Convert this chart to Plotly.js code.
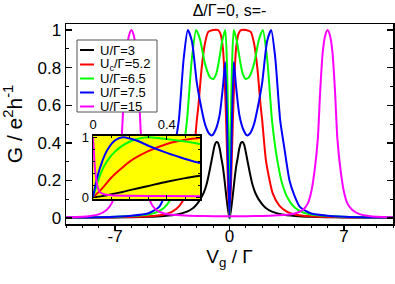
<!DOCTYPE html>
<html>
<head>
<meta charset="utf-8">
<script src="https://cdn.plot.ly/plotly-3.0.1.min.js"></script>
<style>html,body{margin:0;padding:0;background:#fff;}#chart{width:395px;height:284px;}</style>
</head>
<body>
<div id="chart"></div>
<script>
// ---- Data ----
const seriesNames = ["U/Γ=3", "U<sub>c</sub>/Γ=5.2", "U/Γ=6.5", "U/Γ=7.5", "U/Γ=15"];
const seriesColors = ["#000000", "#ff0000", "#00ff00", "#0000ff", "#ff00ff"];

// main panel: G vs Vg/Γ
const vgU3 = [-10,-8,-7,-6,-5,-4,-3.2,-2.6,-2.2,-1.9,-1.6,-1.4,-1.2,-1.0,-0.9,-0.8,-0.7,-0.6,-0.5,-0.4,-0.3,-0.2,-0.1,0,
              0.1,0.2,0.3,0.4,0.5,0.6,0.7,0.8,0.9,1.0,1.2,1.4,1.6,1.9,2.2,2.6,3.2,4,5,6,7,8,10];
const gU3  = [0.002,0.003,0.004,0.005,0.007,0.012,0.02,0.035,0.055,0.085,0.13,0.18,0.26,0.35,0.39,0.405,0.40,0.37,0.32,0.27,0.20,0.12,0.05,0,
              0.05,0.12,0.20,0.27,0.32,0.37,0.40,0.405,0.39,0.35,0.26,0.18,0.13,0.085,0.055,0.035,0.02,0.012,0.007,0.005,0.004,0.003,0.002];

const vgU52 = [-10,-8,-6,-5,-4,-3.5,-3.06,-2.65,-2.24,-2.0,-1.9,-1.7,-1.5,-1.3,-1.0,-0.7,-0.55,-0.4,-0.3,-0.2,-0.1,0,
               0.1,0.2,0.3,0.4,0.55,0.7,1.0,1.3,1.5,1.7,1.9,2.0,2.24,2.65,3.06,3.5,4,5,6,8,10];
const gU52  = [0.002,0.003,0.006,0.01,0.02,0.035,0.065,0.13,0.30,0.52,0.60,0.80,0.93,0.99,1.0,1.0,0.98,0.90,0.75,0.50,0.20,0,
               0.20,0.50,0.75,0.90,0.98,1.0,1.0,0.99,0.93,0.80,0.60,0.52,0.30,0.13,0.065,0.035,0.02,0.01,0.006,0.003,0.002];

const vgU65 = [-10,-8,-6,-5,-4.5,-4.0,-3.6,-3.2,-2.9,-2.6,-2.3,-2.04,-1.8,-1.5,-1.2,-1.0,-0.8,-0.6,-0.45,-0.26,-0.15,-0.1,-0.05,0,
               0.05,0.1,0.15,0.26,0.45,0.6,0.8,1.0,1.2,1.5,1.8,2.04,2.3,2.6,2.9,3.2,3.6,4.0,4.5,5,6,8,10];
const gU65  = [0.003,0.005,0.012,0.02,0.03,0.055,0.10,0.19,0.32,0.52,0.85,1.0,0.95,0.82,0.75,0.74,0.77,0.86,0.94,1.0,0.80,0.60,0.35,0,
               0.35,0.60,0.80,1.0,0.94,0.86,0.77,0.74,0.75,0.82,0.95,1.0,0.85,0.52,0.32,0.19,0.10,0.055,0.03,0.02,0.012,0.005,0.003];

const vgU75 = [-10,-8,-6,-5,-4.3,-3.97,-3.67,-3.36,-3.1,-2.8,-2.55,-2.3,-2.0,-1.8,-1.5,-1.25,-1.07,-0.85,-0.6,-0.4,-0.26,0,
               0.26,0.4,0.6,0.85,1.07,1.25,1.5,1.8,2.0,2.3,2.55,2.8,3.1,3.36,3.67,3.97,4.3,5,6,8,10];
const gU75  = [0.003,0.005,0.013,0.025,0.06,0.12,0.20,0.37,0.52,0.85,1.0,0.94,0.72,0.62,0.50,0.45,0.44,0.47,0.55,0.70,0.83,0,
               0.83,0.70,0.55,0.47,0.44,0.45,0.50,0.62,0.72,0.94,1.0,0.85,0.52,0.37,0.20,0.12,0.06,0.025,0.013,0.005,0.003];

const vgU15 = [-10,-9,-8.5,-8,-7.5,-7.2,-7.0,-6.8,-6.6,-6.45,-6.3,-6.15,-6,-5.85,-5.7,-5.55,-5.4,-5.2,-5.0,-4.8,-4.5,-4,-3.5,-3,-2,-1,0,
               1,2,3,3.5,4,4.5,4.8,5.0,5.2,5.4,5.55,5.7,5.85,6,6.15,6.3,6.45,6.6,6.8,7.0,7.2,7.5,8,8.5,9,10];
const gU15  = [0.005,0.008,0.012,0.02,0.045,0.08,0.14,0.25,0.42,0.68,0.88,0.97,1.0,0.97,0.88,0.68,0.42,0.25,0.14,0.08,0.045,0.025,0.018,0.015,0.012,0.01,0.01,
               0.01,0.012,0.015,0.018,0.025,0.045,0.08,0.14,0.25,0.42,0.68,0.88,0.97,1.0,0.97,0.88,0.68,0.42,0.25,0.14,0.08,0.045,0.02,0.012,0.008,0.005];

// inset: zoom on small Vg/Γ
const inXU3  = [0,0.05,0.1,0.16,0.2,0.3,0.4,0.5,0.58];
const inGU3  = [0,0.02,0.05,0.09,0.12,0.19,0.26,0.32,0.36];
const inXU52 = [0,0.05,0.1,0.15,0.2,0.3,0.4,0.5,0.58];
const inGU52 = [0,0.15,0.33,0.47,0.60,0.77,0.89,0.96,0.99];
const inXU65 = [0,0.03,0.06,0.1,0.15,0.2,0.25,0.3,0.35,0.4,0.5,0.58];
const inGU65 = [0,0.30,0.52,0.70,0.84,0.93,0.98,1.0,0.99,0.97,0.93,0.89];
const inXU75 = [0,0.02,0.05,0.08,0.12,0.16,0.2,0.25,0.3,0.4,0.5,0.58];
const inGU75 = [0,0.30,0.60,0.80,0.95,1.0,0.98,0.93,0.86,0.74,0.64,0.57];
const inXU15 = [0,0.005,0.01,0.02,0.03,0.04,0.06,0.1,0.2,0.4,0.58];
const inGU15 = [1.0,0.75,0.50,0.25,0.13,0.08,0.05,0.035,0.025,0.02,0.017];

// tick labels
const xTickVals = [-7, 0, 7];
const xTickText = ["-7", "0", "7"];
const yTickVals = [0, 0.2, 0.4, 0.6, 0.8, 1];
const yTickText = ["0", "0.2", "0.4", "0.6", "0.8", "1"];
const inXTickVals = [0, 0.4];
const inXTickText = ["0", "0.4"];
const inYTickVals = [0, 1];
const inYTickText = ["0", "1"];

// ---- Build figure ----
const FONT = "Liberation Sans, Arial, sans-serif";
const mainX = [vgU3, vgU52, vgU65, vgU75, vgU15];
const mainY = [gU3, gU52, gU65, gU75, gU15];
const insX = [inXU3, inXU52, inXU65, inXU75, inXU15];
const insY = [inGU3, inGU52, inGU65, inGU75, inGU15];
const insXRange = [0, 0.58];
const insYRange = [-0.028, 1.027];

const traces = [];
for (let i = 0; i < 5; i++) {
  traces.push({x: mainX[i], y: mainY[i], type: "scatter", mode: "lines", name: seriesNames[i],
    line: {color: seriesColors[i], width: 2, shape: "spline", smoothing: 0.6}, showlegend: false, xaxis: "x", yaxis: "y"});
}
for (let i = 0; i < 5; i++) {
  traces.push({x: insX[i], y: insY[i], type: "scatter", mode: "lines", name: seriesNames[i],
    line: {color: seriesColors[i], width: 2, shape: "spline", smoothing: 0.6}, showlegend: false, xaxis: "x3", yaxis: "y3"});
}

// manual legend (compact, like the reference)
const L = 66, R = 393, T = 24, B = 224;
const px = v => (v - L) / (R - L);
const py = v => (B - v) / (B - T);
const shapes = [
  {type: "rect", xref: "x3", yref: "y3", x0: insXRange[0], x1: insXRange[1], y0: insYRange[0], y1: insYRange[1],
   fillcolor: "#ffff00", line: {width: 0}, layer: "below"},
  {type: "rect", xref: "paper", yref: "paper", x0: px(77), x1: px(157), y0: py(112), y1: py(40),
   fillcolor: "#ffffff", line: {color: "#555555", width: 1}, layer: "above"}
];
const annotations = [];
const rowY = [50, 64.5, 78.5, 92.5, 106.5];
for (let i = 0; i < 5; i++) {
  shapes.push({type: "line", xref: "paper", yref: "paper", x0: px(80), x1: px(94), y0: py(rowY[i]), y1: py(rowY[i]),
    line: {color: seriesColors[i], width: 2}, layer: "above"});
  annotations.push({xref: "paper", yref: "paper", x: px(98), y: py(rowY[i]), xanchor: "left", yanchor: "middle",
    text: seriesNames[i], showarrow: false, font: {family: FONT, size: 13, color: "#000"}});
}

const layout = {
  width: 395, height: 284,
  margin: {l: L, r: 395 - R, t: T, b: 284 - B, pad: 0},
  paper_bgcolor: "#ffffff", plot_bgcolor: "#ffffff",
  font: {family: FONT, color: "#000"},
  title: {text: "Δ/Γ=0, s=-", x: 0.5, xref: "paper", xanchor: "center", y: 1 - 10 / 284, yanchor: "middle",
          font: {family: FONT, size: 16, color: "#000"}},
  xaxis: {range: [-10, 10], tickmode: "array", tickvals: xTickVals, ticktext: xTickText,
          ticks: "outside", ticklen: 4, tickwidth: 1.5, tickcolor: "#000", ticklabelstandoff: -8,
          minor: {tickmode: "linear", tick0: 0, dtick: 1, ticks: "outside", ticklen: 2.5, tickwidth: 1, tickcolor: "#000"},
          showline: true, linewidth: 1.5, linecolor: "#000", mirror: true,
          showgrid: false, zeroline: false, tickfont: {size: 17},
          title: {text: "V<sub>g</sub> / Γ", font: {size: 19}, standoff: 5}},
  xaxis2: {range: [-10, 10], overlaying: "x", side: "top", anchor: "y", tickmode: "array", tickvals: xTickVals,
          showticklabels: false, ticks: "inside", ticklen: 5, tickwidth: 1.5, tickcolor: "#000",
          minor: {tickmode: "linear", tick0: 0, dtick: 1, ticks: "inside", ticklen: 3, tickwidth: 1, tickcolor: "#000"},
          showline: false, showgrid: false, zeroline: false},
  yaxis: {range: [-0.031, 1.032], tickmode: "array", tickvals: yTickVals, ticktext: yTickText,
          ticks: "inside", ticklen: 6, tickwidth: 1.5, tickcolor: "#000",
          minor: {tickmode: "linear", tick0: 0, dtick: 0.1, ticks: "inside", ticklen: 3, tickwidth: 1, tickcolor: "#000"},
          showline: true, linewidth: 1.5, linecolor: "#000", mirror: "allticks",
          showgrid: false, zeroline: false, tickfont: {size: 17},
          title: {text: "G / e<sup>2</sup>h<sup>-1</sup>", font: {size: 21}, standoff: 9}},
  xaxis3: {domain: [px(93), px(200)], anchor: "y3", side: "top", range: insXRange,
          tickmode: "array", tickvals: inXTickVals, ticktext: inXTickText,
          ticks: "inside", ticklen: 4, tickwidth: 1, tickcolor: "#000",
          minor: {tickmode: "linear", tick0: 0, dtick: 0.1, ticks: "inside", ticklen: 2, tickwidth: 1, tickcolor: "#000"},
          showline: true, linewidth: 1.5, linecolor: "#000", mirror: "allticks",
          showgrid: false, zeroline: false, tickfont: {size: 13}},
  yaxis3: {domain: [py(199), py(135.7)], anchor: "x3", range: insYRange,
          tickmode: "array", tickvals: inYTickVals, ticktext: inYTickText,
          ticks: "inside", ticklen: 4, tickwidth: 1, tickcolor: "#000",
          minor: {tickmode: "linear", tick0: 0, dtick: 0.2, ticks: "inside", ticklen: 2, tickwidth: 1, tickcolor: "#000"},
          showline: true, linewidth: 1.5, linecolor: "#000", mirror: "allticks",
          showgrid: false, zeroline: false, tickfont: {size: 13}},
  shapes: shapes,
  annotations: annotations,
  showlegend: false
};

Plotly.newPlot("chart", traces, layout, {displayModeBar: false, staticPlot: true});
</script>
</body>
</html>
